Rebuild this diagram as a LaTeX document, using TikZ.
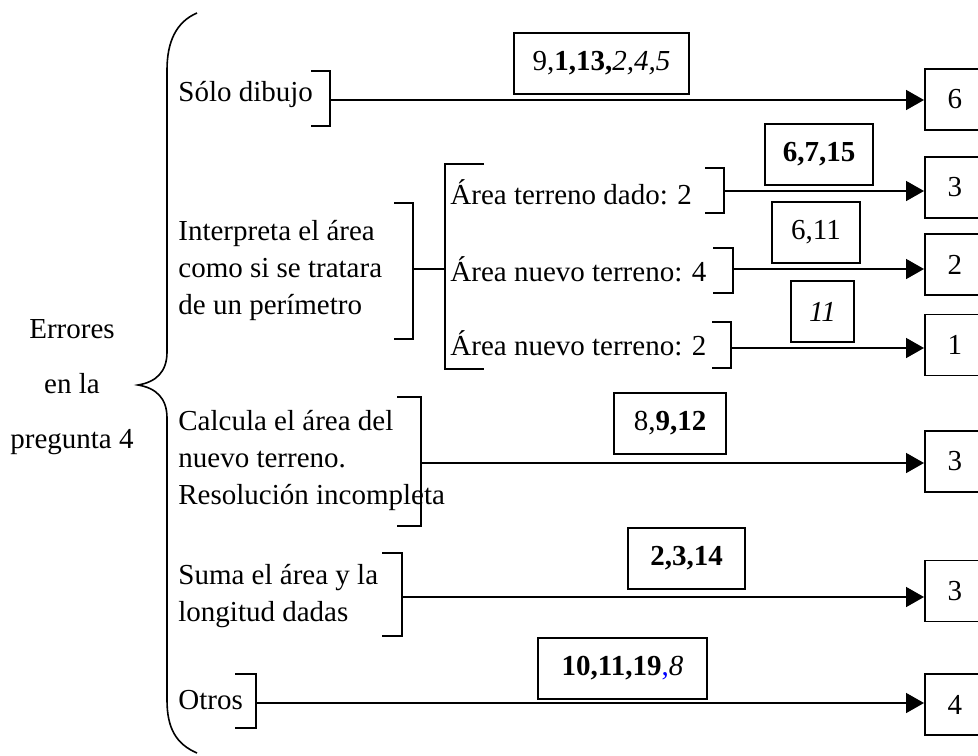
\documentclass[tikz,border=0pt]{standalone}
\usepackage{fontspec}
\setmainfont{Liberation Serif}
\usetikzlibrary{arrows.meta,positioning}

\begin{document}
\begin{tikzpicture}[x=0.5pt, y=-0.5pt,
  every node/.style={font=\fontsize{14.5}{18.5}\selectfont},
  item/.style={anchor=west, align=left, inner sep=0pt},
  lbl/.style={draw, line width=0.8pt, minimum height=30.5pt, inner sep=0pt},
  num/.style={draw, line width=0.8pt, anchor=west, minimum width=30pt, minimum height=30.5pt, inner sep=0pt},
  brk/.style={line width=0.8pt},
  arr/.style={line width=0.8pt, -{Triangle[length=9pt,width=10pt]}}]
\useasboundingbox (0,0) rectangle (978,755);

\node[align=center, font=\fontsize{14.5}{27.5}\selectfont] (err) at (72,387) {Errores\\en la\\pregunta 4};
\draw[brk] (197,13) .. controls (176,22) and (167,42) .. (167,70) -- (167,352)
  .. controls (167,372) and (156,382) .. (138,385)
  .. controls (156,388) and (167,398) .. (167,418) -- (167,700)
  .. controls (167,728) and (176,744) .. (197,753);

% items
\node[item] (solo) at (178,95) {Sólo dibujo};
\node[item] (interp) at (178,270) {Interpreta el área\\como si se tratara\\de un perímetro};
\node[item] (sub1) at (450,192) {Área terreno dado: 2};
\node[item] (sub2) at (450,269) {Área nuevo terreno: 4};
\node[item] (sub3) at (450,343) {Área nuevo terreno: 2};
\node[item] (calc) at (178,460) {Calcula el área del\\nuevo terreno.\\Resolución incompleta};
\node[item] (suma) at (178,596) {Suma el área y la\\longitud dadas};
\node[item] (otros) at (178,700) {Otros};

% brackets
\draw[brk] (311,71) -- (330,71) -- (330,126) -- (311,126);
\draw[brk] (394,203) -- (413,203) -- (413,339) -- (394,339);
\draw[brk] (484,164) -- (445,164) -- (445,369) -- (484,369);
\draw[brk] (705,168) -- (724,168) -- (724,213) -- (705,213);
\draw[brk] (713,248) -- (733,248) -- (733,293) -- (713,293);
\draw[brk] (712,322) -- (731,322) -- (731,368) -- (712,368);
\draw[brk] (397,397) -- (421,397) -- (421,526) -- (397,526);
\draw[brk] (382,553) -- (402,553) -- (402,636) -- (382,636);
\draw[brk] (235,674) -- (256,674) -- (256,728) -- (235,728);
\coordinate (soloR) at (330,100);
\coordinate (interpR) at (413,269);
\coordinate (subL) at (445,269);
\coordinate (sub1R) at (724,191);
\coordinate (sub2R) at (733,269);
\coordinate (sub3R) at (731,348);
\coordinate (calcR) at (421,463);
\coordinate (sumaR) at (402,597);
\coordinate (otrosR) at (256,703);

% counts
\node[num] (n6) at (924,99.5) {6};
\node[num] (n3a) at (924,187.5) {3};
\node[num] (n2) at (924,264.5) {2};
\node[num] (n1) at (924,345) {1};
\node[num] (n3b) at (924,461.5) {3};
\node[num] (n3c) at (924,591) {3};
\node[num] (n4) at (924,704.5) {4};

% students
\node[lbl, minimum width=87.5pt] (l1) at (601.5,63.5) {9,\textbf{1,13,}\textit{2,4,5}};
\node[lbl, minimum width=54pt] (l2) at (819,154.5) {\textbf{6,7,15}};
\node[lbl, minimum width=44pt] (l3) at (816,232.5) {6,11};
\node[lbl, minimum width=31.5pt] (l4) at (822.5,311.5) {\textit{11}};
\node[lbl, minimum width=56pt] (l5) at (670,423.5) {8,\textbf{9,12}};
\node[lbl, minimum width=58.5pt] (l6) at (686.5,558.5) {\textbf{2,3,14}};
\node[lbl, minimum width=84.5pt] (l7) at (622.5,668.5) {\textbf{10,11,19}{\color{blue},}\textit{8}};

% connectors
\draw[brk] (interpR) -- (subL);
\draw[arr] (soloR) -- (soloR -| n6.west);
\draw[arr] (sub1R) -- (sub1R -| n3a.west);
\draw[arr] (sub2R) -- (sub2R -| n2.west);
\draw[arr] (sub3R) -- (sub3R -| n1.west);
\draw[arr] (calcR) -- (calcR -| n3b.west);
\draw[arr] (sumaR) -- (sumaR -| n3c.west);
\draw[arr] (otrosR) -- (otrosR -| n4.west);
\end{tikzpicture}
\end{document}
